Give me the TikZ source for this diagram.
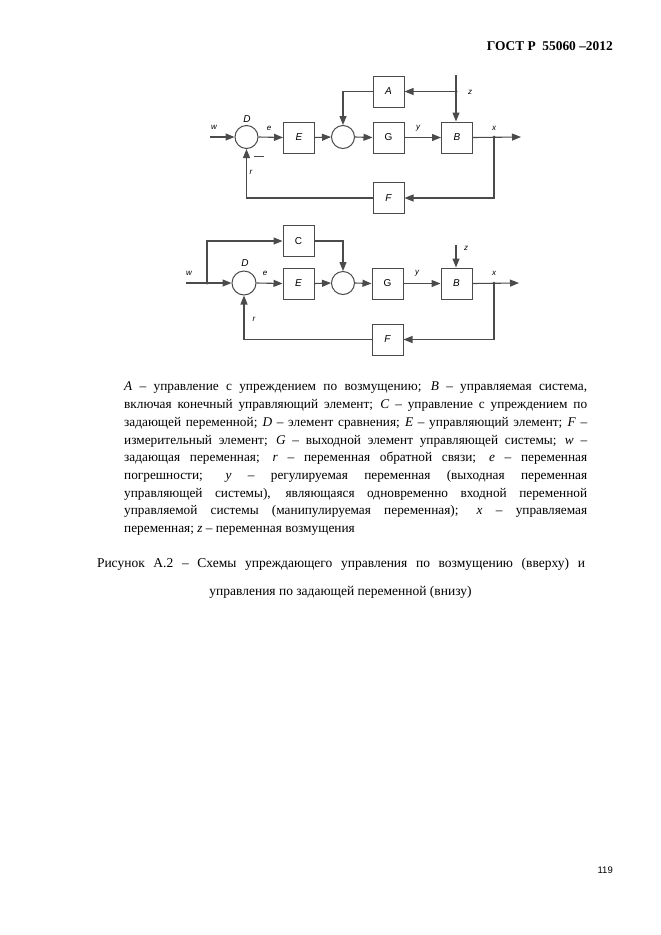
\documentclass[tikz,border=0pt]{standalone}
\usepackage{fontspec}
\setmainfont{Liberation Serif}
\newfontfamily\arialf{Liberation Sans}
\usetikzlibrary{arrows.meta}
\definecolor{lc}{RGB}{75,75,75}
\begin{document}
\begin{tikzpicture}[x=1pt,y=-1pt,
  conn/.style={draw=lc, line width=1.1pt},
  arr/.style={conn, -{Triangle[length=9pt,width=7pt]}},
  blk/.style={draw=lc, line width=1pt, minimum width=31pt, minimum height=31pt, inner sep=0pt, font=\arialf\itshape\fontsize{10}{10}\selectfont},
  blku/.style={blk, font=\arialf\fontsize{10}{10}\selectfont},
  sumc/.style={circle, draw=lc, line width=1pt, minimum size=23pt, inner sep=0pt},
  lbl/.style={font=\arialf\itshape\fontsize{8}{8}\selectfont, inner sep=0pt},
  jdot/.style={circle, fill=lc, minimum size=3pt, inner sep=0pt},
  every node/.append style={text=black}]
\path[use as bounding box] (0,0) rectangle (661,935);

% header and page number
\node[font=\bfseries\fontsize{13.4}{14}\selectfont, anchor=east, inner sep=0pt] (hdr) at (613,46) {ГОСТ Р~~55060 –2012};
\node[font=\arialf\fontsize{9.5}{10}\selectfont, anchor=east, inner sep=0pt] (pg) at (613,870) {119};

% ===== top diagram =====
\node[sumc] (D1) at (246.5,137) {};
\node[blk] (E1) at (299,137.5) {E};
\node[sumc] (S1) at (343,137) {};
\node[blku] (G1) at (388.5,137.5) {G};
\node[blk] (B1) at (457,137.5) {B};
\node[blk] (A1) at (388.5,91.5) {A};
\node[blk] (F1) at (388.5,198) {F};
\coordinate (w1) at (210,137);
\coordinate (out1) at (521,137);
\node[jdot] (jx1) at (494,137) {};
\node[jdot] (jz1) at (456,91.5) {};
\coordinate (z1) at (456,75);

\draw[arr] (w1) -- (D1.west);
\draw[arr] (D1.east) -- (E1.west);
\draw[arr] (E1.east) -- (S1.west);
\draw[arr] (S1.east) -- (G1.west);
\draw[arr] (G1.east) -- (B1.west);
\draw[arr] (B1.east) -- (out1);
\draw[arr] (z1) -- (B1.north -| z1);
\draw[arr] (jz1.center) -- (A1.east);
\draw[arr] (A1.west) -| (S1.north);
\draw[arr] (jx1.center) |- (F1.east);
\draw[arr] (F1.west) -| (D1.south);
\draw[line width=1.3pt, draw=lc] (254,156.5) -- (264,156.5);

\node[lbl, font=\arialf\itshape\fontsize{10}{10}\selectfont] (lD1) at (247,119) {D};
\node[lbl] (lw1) at (214,127) {w};
\node[lbl] (le1) at (269,128) {e};
\node[lbl] (lr1) at (251,172) {r};
\node[lbl] (ly1) at (418,128) {y};
\node[lbl] (lx1) at (494,128) {x};
\node[lbl] (lz1) at (470,92) {z};

% ===== bottom diagram =====
\node[sumc, minimum size=24pt] (D2) at (244,283) {};
\node[blk] (E2) at (298.5,283.5) {E};
\node[sumc] (S2) at (343,283) {};
\node[blku] (G2) at (387.5,283.5) {G};
\node[blk] (B2) at (456.5,283.5) {B};
\node[blku] (C2) at (298.5,241) {C};
\node[blk] (F2) at (387.5,339.5) {F};
\coordinate (w2) at (186,283);
\coordinate (out2) at (519,283);
\node[jdot] (jw2) at (207,283) {};
\node[jdot] (jx2) at (494,283) {};
\coordinate (z2) at (456,245);

\draw[conn] (w2) -- (jw2.center);
\draw[arr] (jw2.center) -- (D2.west);
\draw[arr] (jw2.center) |- (C2.west);
\draw[arr] (C2.east) -| (S2.north);
\draw[arr] (D2.east) -- (E2.west);
\draw[arr] (E2.east) -- (S2.west);
\draw[arr] (S2.east) -- (G2.west);
\draw[arr] (G2.east) -- (B2.west);
\draw[arr] (B2.east) -- (out2);
\draw[arr] (z2) -- (B2.north -| z2);
\draw[arr] (jx2.center) |- (F2.east);
\draw[arr] (F2.west) -| (D2.south);

\node[lbl, font=\arialf\itshape\fontsize{10}{10}\selectfont] (lD2) at (245,263) {D};
\node[lbl] (lw2) at (189,273) {w};
\node[lbl] (le2) at (265,273) {e};
\node[lbl] (lr2) at (254,319) {r};
\node[lbl] (ly2) at (417,273) {y};
\node[lbl] (lx2) at (494,273) {x};
\node[lbl] (lz2) at (466,248) {z};

% ===== legend text =====
\node[anchor=north west, text width=463pt, align=justify, inner sep=0pt,
      font=\fontsize{13.3}{17.7}\selectfont] (legend) at (124,382)
{\textit{A} – управление с упреждением по возмущению; \textit{B} – управляемая система,\linebreak
включая конечный управляющий элемент; \textit{C} – управление с упреждением по\linebreak
задающей переменной; \textit{D} – элемент сравнения; \textit{E} – управляющий элемент; \textit{F} –\linebreak
измерительный элемент; \textit{G} – выходной элемент управляющей системы; \textit{w} –\linebreak
задающая переменная; \textit{r} – переменная обратной связи; \textit{e} – переменная\linebreak
погрешности; \textit{y} – регулируемая переменная (выходная переменная\linebreak
управляющей системы), являющаяся одновременно входной переменной\linebreak
управляемой системы (манипулируемая переменная); \textit{x} – управляемая\linebreak
переменная; \textit{z} – переменная возмущения\par};

% ===== caption =====
\node[inner sep=0pt, font=\fontsize{13.5}{28}\selectfont] (cap1) at (341,564)
{\makebox[488pt][s]{Рисунок А.2 – Схемы упреждающего управления по возмущению (вверху) и}};
\node[inner sep=0pt, font=\fontsize{13.5}{28}\selectfont] (cap2) at (340.5,592)
{управления по задающей переменной (внизу)};
\end{tikzpicture}
\end{document}
